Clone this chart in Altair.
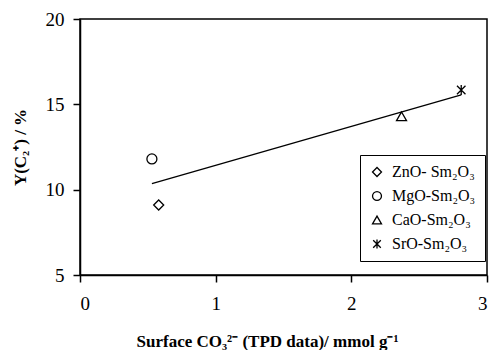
import altair as alt
import pandas as pd

# Data
materials = ["ZnO- Sm₂O₃", "MgO-Sm₂O₃", "CaO-Sm₂O₃", "SrO-Sm₂O₃"]
co3 = [0.58, 0.53, 2.37, 2.81]
yield_c2 = [9.1, 11.8, 14.3, 15.84]

trend_x = [0.53, 2.81]
trend_y = [10.35, 15.55]

x_ticks = [0, 1, 2, 3]
y_ticks = [5, 10, 15, 20]

pts = pd.DataFrame({"material": materials, "x": co3, "y": yield_c2})
trend = pd.DataFrame({"x": trend_x, "y": trend_y})

FONT = "Liberation Serif"
star = "M0,-1L0,1M-0.85,-0.85L0.85,0.85M-0.85,0.85L0.85,-0.85"

xscale = alt.Scale(domain=[0, 3], nice=False)
yscale = alt.Scale(domain=[5, 20], nice=False)

xaxis = alt.Axis(
    values=x_ticks, format="d", title="Surface CO₃²⁻ (TPD data)/ mmol g⁻¹", grid=False,
    tickSize=7, labelPadding=12, labelFontSize=19, labelFont=FONT,
    titleFont=FONT, titleFontSize=17, titleFontWeight="bold",
    titleX=187, titleY=66, titleBaseline="middle", titleAlign="center",
    domainColor="black", tickColor="black", labelColor="black", titleColor="black",
    domainWidth=1.5, tickWidth=1.5,
)
yaxis = alt.Axis(
    values=y_ticks, format="d", title="Y(C₂⁺) / %", grid=False,
    tickSize=7, labelPadding=9, labelFontSize=19, labelFont=FONT,
    titleFont=FONT, titleFontSize=17, titleFontWeight="bold",
    titleX=-60, titleY=128, titleAngle=270, titleBaseline="middle", titleAlign="center",
    domainColor="black", tickColor="black", labelColor="black", titleColor="black",
    domainWidth=1.5, tickWidth=1.5,
)

line = alt.Chart(trend).mark_line(color="black", strokeWidth=1.3).encode(
    x=alt.X("x:Q", scale=xscale, axis=xaxis),
    y=alt.Y("y:Q", scale=yscale, axis=yaxis),
)

points = alt.Chart(pts).mark_point(
    filled=False, color="black", strokeWidth=1.3, size=100, opacity=1
).encode(
    x=alt.X("x:Q", scale=xscale),
    y=alt.Y("y:Q", scale=yscale),
    shape=alt.Shape(
        "material:N",
        scale=alt.Scale(domain=materials, range=["diamond", "circle", "triangle-up", star]),
        legend=alt.Legend(
            title=None, orient="none", legendX=280, legendY=136,
            strokeColor="black", padding=9, fillColor="white",
            labelFont=FONT, labelFontSize=16, labelColor="black",
            symbolSize=80, symbolStrokeColor="black", symbolStrokeWidth=1.3,
            symbolFillColor="transparent", labelOffset=7, rowPadding=8,
            labelLimit=200,
        ),
    ),
)

chart = (
    alt.layer(line, points)
    .properties(
        width=407, height=256,
        autosize=alt.AutoSizeParams(type="none"),
        padding={"left": 80, "top": 19, "right": 5, "bottom": 75},
        background="white",
    )
    .configure_view(stroke="black", strokeWidth=1.5)
)

chart.save("out.html", embed_options={"renderer": "svg", "actions": False})
